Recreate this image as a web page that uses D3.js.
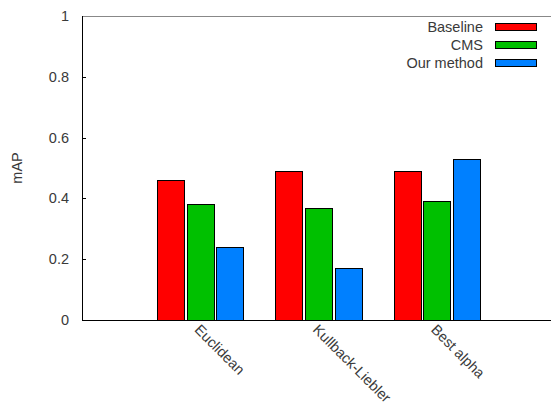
<!DOCTYPE html>
<html>
<head>
<meta charset="utf-8">
<script src="https://cdn.jsdelivr.net/npm/d3@7"></script>
<style>
  body { margin: 0; background: #fff; }
  text { font-family: "Liberation Sans", Arial, sans-serif; fill: #3a3a3a; }
</style>
</head>
<body>
<div id="chart"></div>
<script>
// data
const categories = ['Euclidean', 'Kullback-Liebler', 'Best alpha']
const seriesNames = ['Baseline', 'CMS', 'Our method']
const baseline = [0.46, 0.49, 0.49]
const cms = [0.38, 0.37, 0.39]
const ourMethod = [0.24, 0.17, 0.53]
const yTicks = [0, 0.2, 0.4, 0.6, 0.8, 1]
const colors = ['#ff0000', '#00c000', '#0080ff']

const allSeries = [baseline, cms, ourMethod]

const svg_width = 551
const svg_height = 408
const margin = { top: 16, bottom: 88, left: 82, right: -4 }
const chart_width = svg_width - margin.left - margin.right
const chart_height = svg_height - margin.top - margin.bottom
const fontSize = '14.5px'

const svg = d3.select('#chart').append('svg')
    .attr('width', svg_width).attr('height', svg_height)
const g = svg.append('g').attr('transform', `translate(${margin.left},${margin.top})`)

// gnuplot-like x range: -1 .. 3, groups at 0,1,2
const xScale = d3.scaleLinear([-1, 3], [0, chart_width])
const yScale = d3.scaleLinear([0, 1], [chart_height, 0])
const unit = xScale(1) - xScale(0)
const barW = unit * 0.228
const barStep = unit * 0.25

// bars
categories.forEach((c, i) => {
    allSeries.forEach((s, j) => {
        const cx = xScale(i) + (j - 1) * barStep
        g.append('rect')
            .attr('x', Math.round(cx - barW / 2) + 0.5)
            .attr('y', Math.round(yScale(s[i])) + 0.5)
            .attr('width', Math.round(barW))
            .attr('height', chart_height - Math.round(yScale(s[i])))
            .attr('fill', colors[j])
            .attr('stroke', '#000')
            .attr('stroke-width', 1)
    })
})

// frame
g.append('line').attr('x1', 0).attr('x2', chart_width).attr('y1', 0.5).attr('y2', 0.5)
    .attr('stroke', '#888').attr('stroke-width', 1)
g.append('line').attr('x1', 0.5).attr('x2', 0.5).attr('y1', 0).attr('y2', chart_height)
    .attr('stroke', '#000').attr('stroke-width', 1)
g.append('line').attr('x1', 0).attr('x2', chart_width).attr('y1', chart_height + 0.5).attr('y2', chart_height + 0.5)
    .attr('stroke', '#000').attr('stroke-width', 1)

// y axis ticks (inside, mirrored)
yTicks.forEach(t => {
    const y = Math.round(yScale(t)) + 0.5
    if (t > 0 && t < 1) {
        g.append('line').attr('x1', 0).attr('x2', 4).attr('y1', y).attr('y2', y).attr('stroke', '#000')
        g.append('line').attr('x1', 470).attr('x2', 474).attr('y1', y).attr('y2', y).attr('stroke', '#000')
    }
    g.append('text')
        .attr('x', -13).attr('y', yScale(t))
        .attr('dy', '0.35em')
        .attr('text-anchor', 'end')
        .style('font-size', fontSize)
        .text(d3.format('~g')(t))
})

// x labels rotated
categories.forEach((c, i) => {
    g.append('text')
        .attr('transform', `translate(${xScale(i) - 3},${chart_height + 7}) rotate(45)`)
        .attr('dy', '0.35em')
        .attr('text-anchor', 'start')
        .style('font-size', fontSize)
        .text(c)
})

// y label
svg.append('text')
    .attr('transform', `translate(22,168) rotate(-90)`)
    .attr('text-anchor', 'middle')
    .style('font-size', fontSize)
    .text('mAP')

// legend
const legend = svg.append('g')
seriesNames.forEach((n, j) => {
    const y = 27 + j * 18
    legend.append('text')
        .attr('x', 483).attr('y', y)
        .attr('dy', '0.35em')
        .attr('text-anchor', 'end')
        .style('font-size', fontSize)
        .text(n)
    legend.append('rect')
        .attr('x', 495.5).attr('y', y - 3.5)
        .attr('width', 41).attr('height', 7)
        .attr('fill', colors[j]).attr('stroke', '#000')
})
</script>
</body>
</html>
